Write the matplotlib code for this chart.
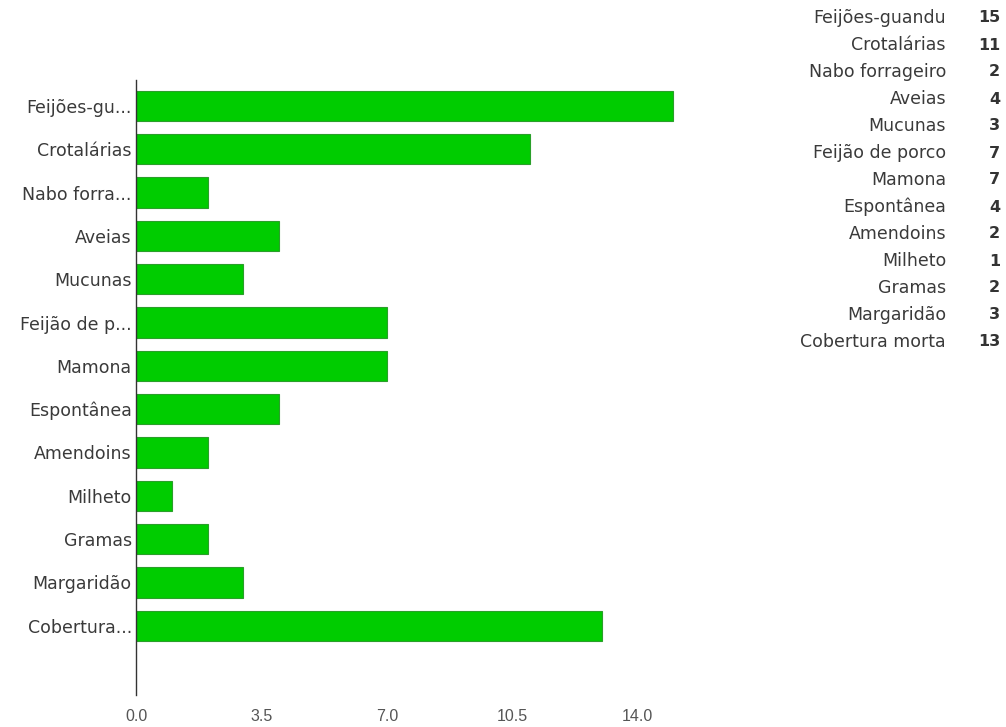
import matplotlib
matplotlib.use('Agg')
import matplotlib.pyplot as plt
import numpy as np

plt.rcParams['font.family'] = ['DejaVu Sans']

# 数据
categories = ['Feijões-guandu', 'Crotalárias', 'Nabo forrageiro', 'Aveias', 'Mucunas',
              'Feijão de porco', 'Mamona', 'Espontânea', 'Amendoins', 'Milheto',
              'Gramas', 'Margaridão', 'Cobertura morta']
short_labels = ['Feijões-gu...', 'Crotalárias', 'Nabo forra...', 'Aveias', 'Mucunas',
                'Feijão de p...', 'Mamona', 'Espontânea', 'Amendoins', 'Milheto',
                'Gramas', 'Margaridão', 'Cobertura...']
values = [15, 11, 2, 4, 3, 7, 7, 4, 2, 1, 2, 3, 13]
xticks = [0.0, 3.5, 7.0, 10.5, 14.0]

fig = plt.figure(figsize=(10.06, 7.27), dpi=100)
ax = fig.add_axes([0.1352, 0.044, 0.552, 0.846])

y = np.arange(len(categories))
ax.barh(y, values, height=0.7, color='#00cc00', edgecolor='#2a9f2a', linewidth=0.8)

ax.set_xlim(0, 15.5)
ax.set_ylim(13.6, -0.6)
ax.set_yticks(y)
ax.set_yticklabels(short_labels, fontsize=12.5, color='#3a3a3a')
ax.set_xticks(xticks)
ax.set_xticklabels([f'{t:.1f}' for t in xticks], fontsize=11.5, color='#555555',
                   family='Liberation Sans')
ax.tick_params(axis='both', length=0, pad=3)
ax.tick_params(axis='x', pad=10)

for side in ['top', 'right', 'bottom']:
    ax.spines[side].set_visible(False)
ax.spines['left'].set_color('#333333')
ax.spines['left'].set_linewidth(1)

# 右侧表格
for i, (name, v) in enumerate(zip(categories, values)):
    ypix = 18 + i * 27
    fig.text(946 / 1006, 1 - ypix / 727, name, ha='right', va='center',
             fontsize=12.5, color='#3a3a3a')
    fig.text(1000 / 1006, 1 - ypix / 727, str(v), ha='right', va='center',
             fontsize=11.5, color='#333333', fontweight='bold')

fig.savefig('out.png', dpi=100, facecolor='white')
